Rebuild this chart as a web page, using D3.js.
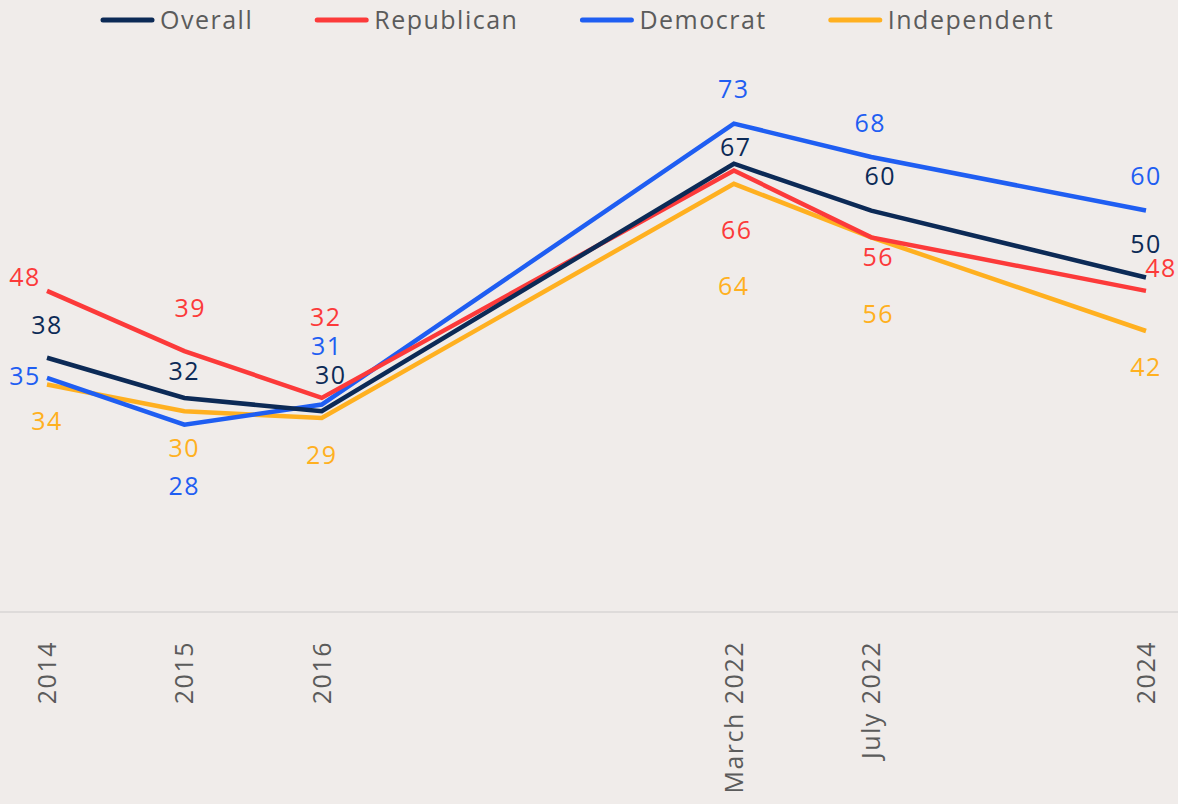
<!DOCTYPE html>
<html>
<head>
<meta charset="utf-8">
<script src="https://cdn.jsdelivr.net/npm/d3@7"></script>
<style>
  html, body { margin: 0; padding: 0; background: #f0ecea; }
  svg { display: block; font-family: "Open Sans", "Lato", sans-serif; }
</style>
</head>
<body>
<div class="container"></div>
<script>
// periods on the x axis (uneven gaps, like the original)
var periods = ["2014", "2015", "2016", "March 2022", "July 2022", "2024"];
var slots = [0, 1, 2, 5, 6, 8];

var seriesNames = ["Overall", "Republican", "Democrat", "Independent"];
var overall     = [38, 32, 30, 67, 60, 50];
var republican  = [48, 39, 32, 66, 56, 48];
var democrat    = [35, 28, 31, 73, 68, 60];
var independent = [34, 30, 29, 64, 56, 42];

var colors = {
  "Overall": "#0c2a56",
  "Republican": "#fc3a3a",
  "Democrat": "#1f5ef2",
  "Independent": "#ffb020"
};

// label nudges [dx, dy] from each point, to keep numbers from colliding
var nudges = {
  "Overall":     [[0,-33],[0,-27],[9,-36],[2,-16],[9,-34],[0,-33]],
  "Republican":  [[-22,-14],[6,-43],[4,-81],[3,60],[7,20],[15,-23]],
  "Democrat":    [[-22,-2],[0,62],[5,-58],[0,-34],[-1,-34],[0,-34]],
  "Independent": [[0,37],[0,37],[0,37],[0,102],[7,77],[0,36]]
};

var series = [
  {name: "Overall", values: overall},
  {name: "Republican", values: republican},
  {name: "Democrat", values: democrat},
  {name: "Independent", values: independent}
];

var width = 1178, height = 804;
var fontSize = '25px', spacing = '1.5px', grey = '#5b5b5b';

var svg = d3.select('.container').append('svg')
  .attr('width', width)
  .attr('height', height);

var x = d3.scaleLinear().domain([0, 8]).range([47, 1146]);
var y = d3.scaleLinear().domain([0, 73]).range([612, 123.6]);

// baseline
svg.append('line')
  .attr('x1', 0).attr('x2', width)
  .attr('y1', y(0)).attr('y2', y(0))
  .attr('stroke', '#d9d6d4')
  .attr('stroke-width', 1.5);

// x axis labels, rotated
svg.append('g').selectAll('text')
  .data(periods)
  .enter().append('text')
  .attr('transform', function(d, i){ return 'translate(' + x(slots[i]) + ',641) rotate(-90)'; })
  .attr('text-anchor', 'end')
  .attr('dy', '0.35em')
  .attr('fill', grey)
  .style('font-size', fontSize)
  .style('letter-spacing', spacing)
  .text(function(d){ return d; });

var line = d3.line()
  .x(function(d, i){ return x(slots[i]); })
  .y(function(d){ return y(d); });

// draw independent first so overall sits on top
var drawOrder = [series[3], series[2], series[1], series[0]];

svg.append('g').selectAll('path')
  .data(drawOrder)
  .enter().append('path')
  .attr('d', function(d){ return line(d.values); })
  .attr('fill', 'none')
  .attr('stroke', function(d){ return colors[d.name]; })
  .attr('stroke-width', 4.5)
  .attr('stroke-linejoin', 'miter');

// value labels
var labels = svg.append('g');
series.forEach(function(s){
  labels.selectAll('text.l-' + s.name)
    .data(s.values)
    .enter().append('text')
    .attr('class', 'l-' + s.name)
    .attr('x', function(d, i){ return x(slots[i]) + nudges[s.name][i][0]; })
    .attr('y', function(d, i){ return y(d) + nudges[s.name][i][1]; })
    .attr('dy', '0.35em')
    .attr('text-anchor', 'middle')
    .attr('fill', colors[s.name])
    .style('font-size', fontSize)
    .style('letter-spacing', spacing)
    .text(function(d){ return d; });
});

// legend along the top
var legend = svg.append('g');
var lx = 101;
seriesNames.forEach(function(name){
  legend.append('line')
    .attr('x1', lx + 2).attr('x2', lx + 51)
    .attr('y1', 20).attr('y2', 20)
    .attr('stroke', colors[name])
    .attr('stroke-width', 5)
    .attr('stroke-linecap', 'round');
  var t = legend.append('text')
    .attr('x', lx + 59)
    .attr('y', 20)
    .attr('dy', '0.35em')
    .attr('fill', grey)
    .style('font-size', fontSize)
    .style('letter-spacing', spacing)
    .text(name);
  lx += 59 + t.node().getComputedTextLength() + 62;
});
</script>
</body>
</html>
